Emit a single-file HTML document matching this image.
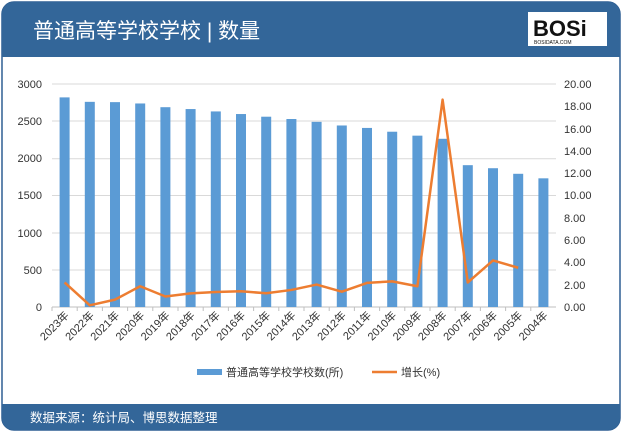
<!DOCTYPE html>
<html><head><meta charset="utf-8"><style>
body{margin:0;background:#fff;}
svg{display:block;font-family:"Liberation Sans","Noto Sans CJK SC",sans-serif;}
</style></head><body>
<svg width="622" height="432" viewBox="0 0 622 432" xmlns="http://www.w3.org/2000/svg">
<rect x="2" y="2" width="618" height="428" rx="12" fill="#fff" stroke="#2f5f93" stroke-width="1.5"/>
<path d="M2,14 a12,12 0 0 1 12,-12 h594 a12,12 0 0 1 12,12 v43 h-618z" fill="#336699"/>
<text x="33" y="38" font-size="21" fill="#fff">普通高等学校学校 | 数量</text>
<rect x="528" y="12" width="79" height="34" fill="#fff"/>
<text x="533" y="36" font-size="22" font-weight="bold" fill="#111">BOSi</text>
<text x="534" y="44" font-size="5" fill="#111">BOSIDATA.COM</text>
<path d="M2,404 h618 v14 a12,12 0 0 1 -12,12 h-594 a12,12 0 0 1 -12,-12z" fill="#336699"/>
<text x="30" y="422" font-size="12.5" fill="#fff">数据来源：统计局、博思数据整理</text>
<g stroke="#d9d9d9" stroke-width="1">
<line x1="52" y1="84" x2="556" y2="84"/><line x1="52" y1="121" x2="556" y2="121"/>
<line x1="52" y1="158.7" x2="556" y2="158.7"/><line x1="52" y1="195.5" x2="556" y2="195.5"/>
<line x1="52" y1="233" x2="556" y2="233"/><line x1="52" y1="270" x2="556" y2="270"/>
</g>
<line x1="52" y1="307" x2="556" y2="307" stroke="#bfbfbf"/>
<g font-size="11" fill="#333" text-anchor="end">
<text x="42" y="88">3000</text><text x="42" y="125">2500</text><text x="42" y="162">2000</text>
<text x="42" y="199">1500</text><text x="42" y="237">1000</text><text x="42" y="274">500</text><text x="42" y="311">0</text>
</g>
<g font-size="11" fill="#333">
<text x="564" y="88">20.00</text><text x="564" y="110">18.00</text><text x="564" y="133">16.00</text>
<text x="564" y="155">14.00</text><text x="564" y="177">12.00</text><text x="564" y="199">10.00</text>
<text x="564" y="222">8.00</text><text x="564" y="244">6.00</text><text x="564" y="266">4.00</text>
<text x="564" y="289">2.00</text><text x="564" y="311">0.00</text>
</g>
<g id="bars" fill="#5b9bd5"></g>
<polyline id="ln" fill="none" stroke="#ed7d31" stroke-width="2.5" stroke-linejoin="round"/>
<g id="lbl" font-size="11" fill="#333"></g>
<rect x="197" y="369" width="25" height="6" fill="#5b9bd5"/>
<text x="226" y="376" font-size="11" fill="#333">普通高等学校学校数(所)</text>
<line x1="372" y1="372" x2="397" y2="372" stroke="#ed7d31" stroke-width="2.5"/>
<text x="401" y="376" font-size="11" fill="#333">增长(%)</text>
<script>
var v=[2820,2760,2756,2738,2688,2663,2631,2596,2560,2529,2491,2442,2409,2358,2305,2263,1908,1867,1792,1731];
var g=[2.2,0.15,0.66,1.86,0.94,1.22,1.35,1.41,1.23,1.53,2.01,1.37,2.16,2.3,1.86,18.6,2.2,4.18,3.52];
var ns="http://www.w3.org/2000/svg",b=document.getElementById('bars'),l=document.getElementById('lbl'),pts=[];
for(var i=0;i<20;i++){var c=52+25.2*(i+0.5);var h=v[i]*223/3000;
var r=document.createElementNS(ns,'rect');r.setAttribute('x',c-5);r.setAttribute('y',307-h);r.setAttribute('width',10);r.setAttribute('height',h);b.appendChild(r);
if(i<19)pts.push(c+','+(307-g[i]*223/20));
var t=document.createElementNS(ns,'text');t.setAttribute('transform','translate('+(c+5)+',316) rotate(-45)');t.setAttribute('text-anchor','end');t.textContent=(2023-i)+'年';l.appendChild(t);
var k=document.createElementNS(ns,'line');k.setAttribute('x1',52+25.2*i);k.setAttribute('x2',52+25.2*i);k.setAttribute('y1',307);k.setAttribute('y2',311);k.setAttribute('stroke','#bfbfbf');l.appendChild(k);}
document.getElementById('ln').setAttribute('points',pts.join(' '));
</script>
</svg>
</body></html>
